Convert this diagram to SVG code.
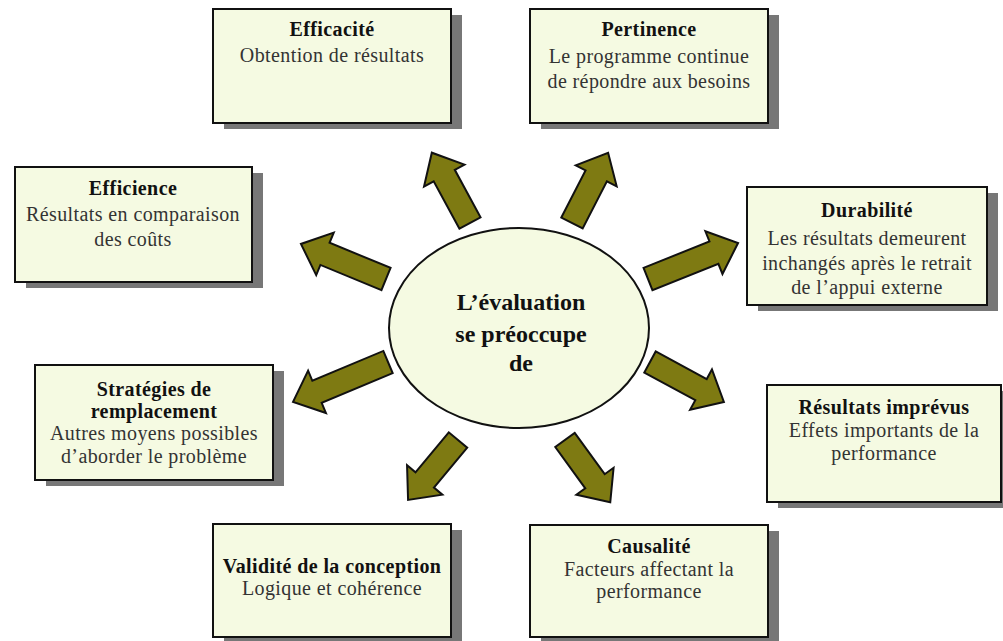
<svg xmlns="http://www.w3.org/2000/svg" width="1003" height="641" viewBox="0 0 1003 641">
  <defs>
    <style>
      .shadow { fill: #777777; }
      .box { fill: #f5fae2; stroke: #111; stroke-width: 2; }
      .title { font-family: "Liberation Serif", "Times New Roman", serif; font-size: 20px; font-weight: bold; fill: #111; text-anchor: middle; letter-spacing: 0.4px; }
      .body { font-family: "Liberation Serif", "Times New Roman", serif; font-size: 20px; fill: #333; text-anchor: middle; letter-spacing: 0.4px; }
      .arrow { fill: #7e7a12; stroke: #111; stroke-width: 2; stroke-linejoin: miter; }
      .hub { fill: #f5fae2; stroke: #111; stroke-width: 2; }
      .hubtext { font-family: "Liberation Serif", "Times New Roman", serif; font-size: 24px; font-weight: bold; fill: #111; text-anchor: middle; }
    </style>
  </defs>
  <rect width="1003" height="641" fill="#ffffff"/>

  <!-- block arrows radiating from the central ellipse -->
  <g id="connectors">
    <path class="arrow" transform="translate(470,223) rotate(-118.5)" d="M0,-12 H54 V-23 L80,0 L54,23 V12 H0 Z"/>
    <path class="arrow" transform="translate(572,223) rotate(-62.8)" d="M0,-12 H53 V-23 L79,0 L53,23 V12 H0 Z"/>
    <path class="arrow" transform="translate(386,279) rotate(-157.6)" d="M0,-12 H66 V-23 L92,0 L66,23 V12 H0 Z"/>
    <path class="arrow" transform="translate(648,279) rotate(-21.8)" d="M0,-12 H71 V-23 L97,0 L71,23 V12 H0 Z"/>
    <path class="arrow" transform="translate(388,362) rotate(157.2)" d="M0,-12 H77 V-23 L103,0 L77,23 V12 H0 Z"/>
    <path class="arrow" transform="translate(650,362) rotate(28.4)" d="M0,-12 H58 V-23 L84,0 L58,23 V12 H0 Z"/>
    <path class="arrow" transform="translate(458,440) rotate(129.8)" d="M0,-12 H52 V-23 L78,0 L52,23 V12 H0 Z"/>
    <path class="arrow" transform="translate(565,440) rotate(54)" d="M0,-12 H51 V-23 L77,0 L51,23 V12 H0 Z"/>
  </g>

  <!-- central hub -->
  <g id="hub">
    <ellipse class="hub" cx="519" cy="328" rx="130" ry="100"/>
    <text class="hubtext" x="521" y="310">L’évaluation</text>
    <text class="hubtext" x="521" y="342">se préoccupe</text>
    <text class="hubtext" x="521" y="371">de</text>
  </g>

  <g id="efficacite">
    <rect class="shadow" x="224" y="15" width="238" height="114"/>
    <rect class="box" x="213" y="9" width="238" height="114"/>
    <text class="title" x="332" y="36">Efficacité</text>
    <text class="body" x="332" y="62">Obtention de résultats</text>
  </g>

  <g id="pertinence">
    <rect class="shadow" x="541" y="15" width="238" height="114"/>
    <rect class="box" x="530" y="9" width="238" height="114"/>
    <text class="title" x="649" y="36">Pertinence</text>
    <text class="body" x="649" y="63">Le programme continue</text>
    <text class="body" x="649" y="88">de répondre aux besoins</text>
  </g>

  <g id="efficience">
    <rect class="shadow" x="26" y="173" width="237" height="115"/>
    <rect class="box" x="15" y="167" width="237" height="115"/>
    <text class="title" x="133" y="195">Efficience</text>
    <text class="body" x="133" y="221">Résultats en comparaison</text>
    <text class="body" x="133" y="246">des coûts</text>
  </g>

  <g id="durabilite">
    <rect class="shadow" x="758" y="193" width="240" height="118"/>
    <rect class="box" x="747" y="187" width="240" height="118"/>
    <text class="title" x="867" y="217">Durabilité</text>
    <text class="body" x="867" y="245">Les résultats demeurent</text>
    <text class="body" x="867" y="270">inchangés après le retrait</text>
    <text class="body" x="867" y="294">de l’appui externe</text>
  </g>

  <g id="strategies">
    <rect class="shadow" x="46" y="371" width="238" height="115"/>
    <rect class="box" x="35" y="365" width="238" height="115"/>
    <text class="title" x="154" y="396">Stratégies de</text>
    <text class="title" x="154" y="418">remplacement</text>
    <text class="body" x="154" y="440">Autres moyens possibles</text>
    <text class="body" x="154" y="463">d’aborder le problème</text>
  </g>

  <g id="imprevus">
    <rect class="shadow" x="778" y="391" width="234" height="117"/>
    <rect class="box" x="767" y="385" width="234" height="117"/>
    <text class="title" x="884" y="414">Résultats imprévus</text>
    <text class="body" x="884" y="437">Effets importants de la</text>
    <text class="body" x="884" y="460">performance</text>
  </g>

  <g id="validite">
    <rect class="shadow" x="224" y="530" width="238" height="113"/>
    <rect class="box" x="213" y="524" width="238" height="113"/>
    <text class="title" x="332" y="573">Validité de la conception</text>
    <text class="body" x="332" y="595">Logique et cohérence</text>
  </g>

  <g id="causalite">
    <rect class="shadow" x="541" y="531" width="238" height="112"/>
    <rect class="box" x="530" y="525" width="238" height="112"/>
    <text class="title" x="649" y="553">Causalité</text>
    <text class="body" x="649" y="576">Facteurs affectant la</text>
    <text class="body" x="649" y="598">performance</text>
  </g>
</svg>
